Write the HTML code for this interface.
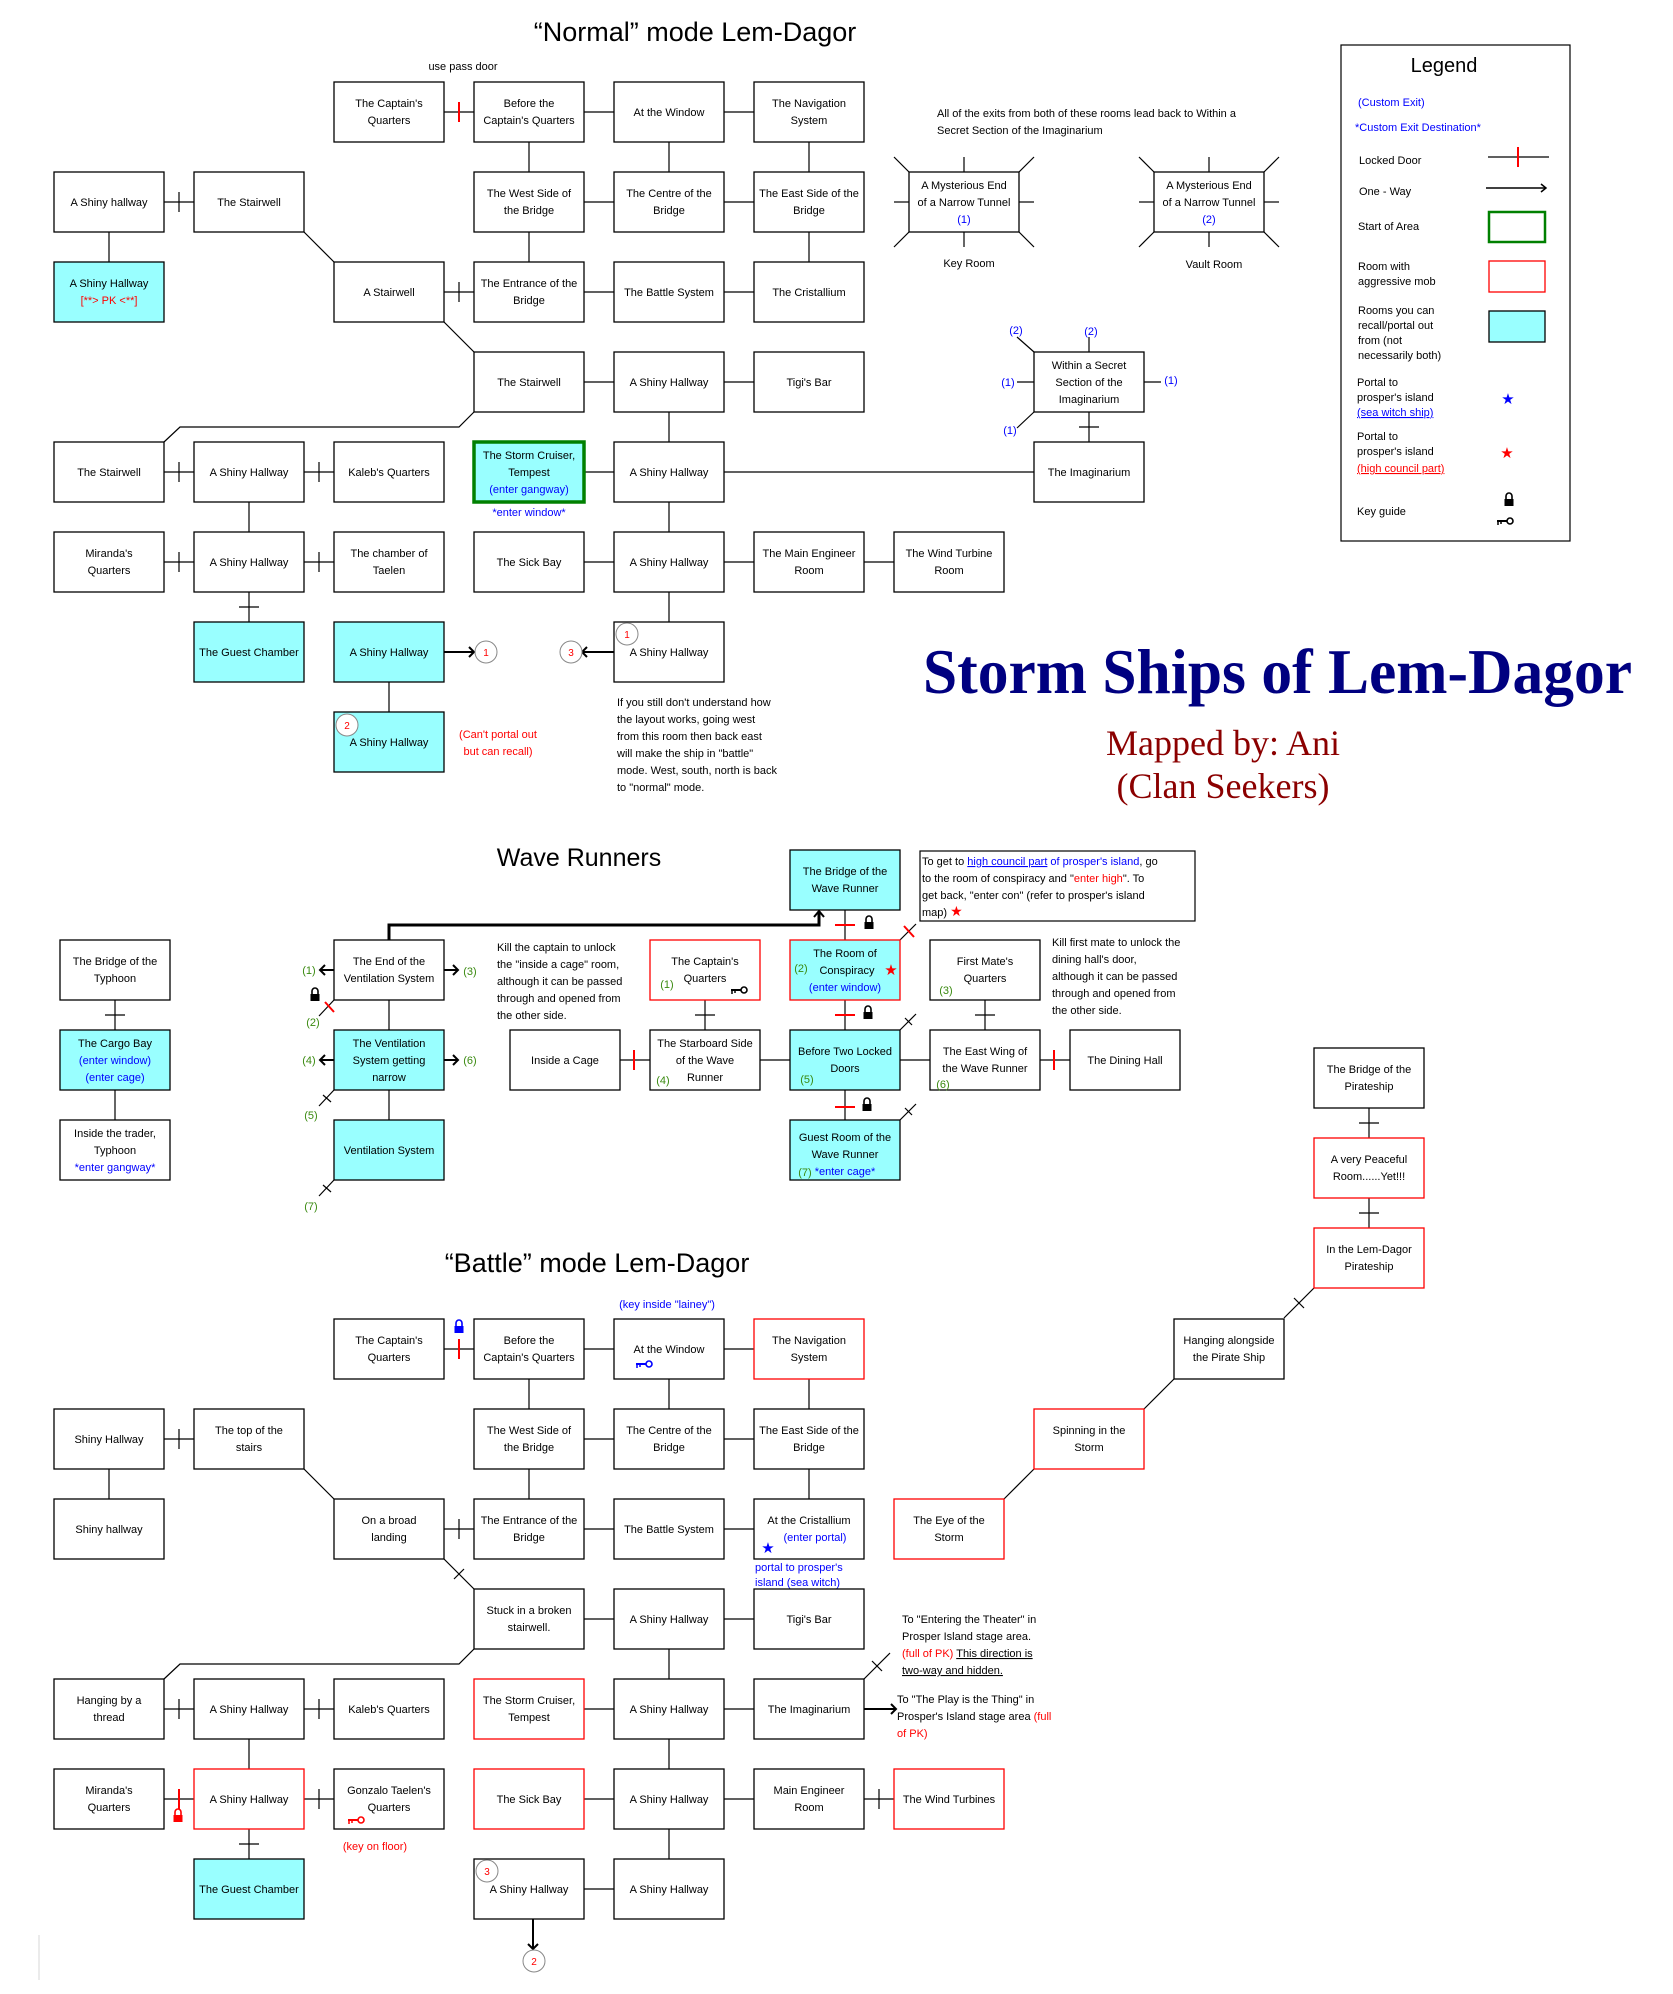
<!DOCTYPE html>
<html><head><meta charset="utf-8"><style>
html,body{margin:0;padding:0;background:#fff}
svg{display:block}
text{font-family:"Liberation Sans",sans-serif;font-size:11px;fill:#000}
.c{text-anchor:middle}
.b{fill:#0000ff}.r{fill:#ff0000}.g{fill:#3a8a10}
rect{stroke:#000;stroke-width:1.3;fill:#fff}
.cy{fill:#99ffff}.rd{stroke:#ff0000}.gr{stroke:#008000;stroke-width:3.5}
line,polyline,path.l{stroke:#000;stroke-width:1.2;fill:none}
.rt{stroke:#ff0000;stroke-width:2}
</style></head><body>
<svg width="1673" height="1994" viewBox="0 0 1673 1994" xmlns="http://www.w3.org/2000/svg">
<defs>
<g id="lock"><path d="M-3,0 v-3 a3,3 0 0 1 6,0 v3" stroke="#000" stroke-width="1.6" fill="none"/><rect x="-4.5" y="0" width="9" height="7" style="fill:#000;stroke:none"/></g>
<g id="key"><circle cx="5" cy="0" r="3" fill="none" stroke="#000" stroke-width="1.6"/><line x1="-8" y1="0" x2="2" y2="0" style="stroke-width:2"/><line x1="-7" y1="0" x2="-7" y2="4" style="stroke-width:1.5"/><line x1="-4" y1="0" x2="-4" y2="3" style="stroke-width:1.5"/></g>
</defs>

<!-- ============ NORMAL MODE ============ -->
<text x="695" y="41" class="c" style="font-size:27px">“Normal” mode Lem-Dagor</text>
<text x="463" y="70" class="c">use pass door</text>

<!-- connectors -->
<line x1="444" y1="112" x2="474" y2="112"/><line x1="459" y1="102" x2="459" y2="122" class="rt"/>
<line x1="584" y1="112" x2="614" y2="112"/><line x1="724" y1="112" x2="754" y2="112"/>
<line x1="529" y1="142" x2="529" y2="172"/><line x1="669" y1="142" x2="669" y2="172"/><line x1="809" y1="142" x2="809" y2="172"/>
<line x1="164" y1="202" x2="194" y2="202"/><line x1="179" y1="192" x2="179" y2="212"/>
<line x1="584" y1="202" x2="614" y2="202"/><line x1="724" y1="202" x2="754" y2="202"/>
<line x1="109" y1="232" x2="109" y2="262"/>
<line x1="529" y1="232" x2="529" y2="262"/><line x1="809" y1="232" x2="809" y2="262"/>
<line x1="304" y1="232" x2="334" y2="262"/>
<line x1="444" y1="292" x2="474" y2="292"/><line x1="459" y1="282" x2="459" y2="302"/>
<line x1="584" y1="292" x2="614" y2="292"/><line x1="724" y1="292" x2="754" y2="292"/>
<line x1="444" y1="322" x2="474" y2="352"/>
<line x1="584" y1="382" x2="614" y2="382"/><line x1="724" y1="382" x2="754" y2="382"/>
<line x1="669" y1="412" x2="669" y2="442"/>
<polyline points="474,412 459,427 180,427 164,442"/>
<line x1="164" y1="472" x2="194" y2="472"/><line x1="179" y1="462" x2="179" y2="482"/>
<line x1="304" y1="472" x2="334" y2="472"/><line x1="319" y1="462" x2="319" y2="482"/>
<line x1="584" y1="472" x2="614" y2="472"/><line x1="724" y1="472" x2="1034" y2="472"/>
<line x1="1089" y1="412" x2="1089" y2="442"/><line x1="1079" y1="427" x2="1099" y2="427"/>
<line x1="249" y1="502" x2="249" y2="532"/><line x1="669" y1="502" x2="669" y2="532"/>
<line x1="164" y1="562" x2="194" y2="562"/><line x1="179" y1="552" x2="179" y2="572"/>
<line x1="304" y1="562" x2="334" y2="562"/><line x1="319" y1="552" x2="319" y2="572"/>
<line x1="584" y1="562" x2="614" y2="562"/><line x1="724" y1="562" x2="754" y2="562"/><line x1="864" y1="562" x2="894" y2="562"/>
<line x1="249" y1="592" x2="249" y2="622"/><line x1="239" y1="607" x2="259" y2="607"/>
<line x1="669" y1="592" x2="669" y2="622"/>
<line x1="389" y1="682" x2="389" y2="712"/>
<line x1="444" y1="652" x2="474" y2="652" style="stroke-width:2"/><polyline points="469,647 474,652 469,657" style="stroke-width:2"/>
<line x1="582" y1="652" x2="614" y2="652" style="stroke-width:2"/><polyline points="587,647 582,652 587,657" style="stroke-width:2"/>

<!-- boxes row 0 -->
<rect x="334" y="82" width="110" height="60"/><text x="389" y="107" class="c">The Captain's</text><text x="389" y="124" class="c">Quarters</text>
<rect x="474" y="82" width="110" height="60"/><text x="529" y="107" class="c">Before the</text><text x="529" y="124" class="c">Captain's Quarters</text>
<rect x="614" y="82" width="110" height="60"/><text x="669" y="116" class="c">At the Window</text>
<rect x="754" y="82" width="110" height="60"/><text x="809" y="107" class="c">The Navigation</text><text x="809" y="124" class="c">System</text>
<!-- row 1 -->
<rect x="54" y="172" width="110" height="60"/><text x="109" y="206" class="c">A Shiny hallway</text>
<rect x="194" y="172" width="110" height="60"/><text x="249" y="206" class="c">The Stairwell</text>
<rect x="474" y="172" width="110" height="60"/><text x="529" y="197" class="c">The West Side of</text><text x="529" y="214" class="c">the Bridge</text>
<rect x="614" y="172" width="110" height="60"/><text x="669" y="197" class="c">The Centre of the</text><text x="669" y="214" class="c">Bridge</text>
<rect x="754" y="172" width="110" height="60"/><text x="809" y="197" class="c">The East Side of the</text><text x="809" y="214" class="c">Bridge</text>
<!-- row 2 -->
<rect x="54" y="262" width="110" height="60" class="cy"/><text x="109" y="287" class="c">A Shiny Hallway</text><text x="109" y="304" class="c r">[**&gt; PK &lt;**]</text>
<rect x="334" y="262" width="110" height="60"/><text x="389" y="296" class="c">A Stairwell</text>
<rect x="474" y="262" width="110" height="60"/><text x="529" y="287" class="c">The Entrance of the</text><text x="529" y="304" class="c">Bridge</text>
<rect x="614" y="262" width="110" height="60"/><text x="669" y="296" class="c">The Battle System</text>
<rect x="754" y="262" width="110" height="60"/><text x="809" y="296" class="c">The Cristallium</text>
<!-- row 3 -->
<rect x="474" y="352" width="110" height="60"/><text x="529" y="386" class="c">The Stairwell</text>
<rect x="614" y="352" width="110" height="60"/><text x="669" y="386" class="c">A Shiny Hallway</text>
<rect x="754" y="352" width="110" height="60"/><text x="809" y="386" class="c">Tigi's Bar</text>
<!-- row 4 -->
<rect x="54" y="442" width="110" height="60"/><text x="109" y="476" class="c">The Stairwell</text>
<rect x="194" y="442" width="110" height="60"/><text x="249" y="476" class="c">A Shiny Hallway</text>
<rect x="334" y="442" width="110" height="60"/><text x="389" y="476" class="c">Kaleb's Quarters</text>
<rect x="474" y="442" width="110" height="60" class="cy gr"/><text x="529" y="459" class="c">The Storm Cruiser,</text><text x="529" y="476" class="c">Tempest</text><text x="529" y="493" class="c b">(enter gangway)</text>
<text x="529" y="516" class="c b">*enter window*</text>
<rect x="614" y="442" width="110" height="60"/><text x="669" y="476" class="c">A Shiny Hallway</text>
<!-- row 5 -->
<rect x="54" y="532" width="110" height="60"/><text x="109" y="557" class="c">Miranda's</text><text x="109" y="574" class="c">Quarters</text>
<rect x="194" y="532" width="110" height="60"/><text x="249" y="566" class="c">A Shiny Hallway</text>
<rect x="334" y="532" width="110" height="60"/><text x="389" y="557" class="c">The chamber of</text><text x="389" y="574" class="c">Taelen</text>
<rect x="474" y="532" width="110" height="60"/><text x="529" y="566" class="c">The Sick Bay</text>
<rect x="614" y="532" width="110" height="60"/><text x="669" y="566" class="c">A Shiny Hallway</text>
<rect x="754" y="532" width="110" height="60"/><text x="809" y="557" class="c">The Main Engineer</text><text x="809" y="574" class="c">Room</text>
<rect x="894" y="532" width="110" height="60"/><text x="949" y="557" class="c">The Wind Turbine</text><text x="949" y="574" class="c">Room</text>
<!-- row 6 -->
<rect x="194" y="622" width="110" height="60" class="cy"/><text x="249" y="656" class="c">The Guest Chamber</text>
<rect x="334" y="622" width="110" height="60" class="cy"/><text x="389" y="656" class="c">A Shiny Hallway</text>
<rect x="614" y="622" width="110" height="60"/><text x="669" y="656" class="c">A Shiny Hallway</text>
<circle cx="486" cy="652" r="11" fill="#fff" stroke="#888"/><text x="486" y="656" class="c r" style="font-size:10px">1</text>
<circle cx="571" cy="652" r="11" fill="#fff" stroke="#888"/><text x="571" y="656" class="c r" style="font-size:10px">3</text>
<circle cx="627" cy="634" r="11" fill="#fff" stroke="#888"/><text x="627" y="638" class="c r" style="font-size:10px">1</text>
<!-- row 7 -->
<rect x="334" y="712" width="110" height="60" class="cy"/><text x="389" y="746" class="c">A Shiny Hallway</text>
<circle cx="347" cy="725" r="11" fill="#fff" stroke="#888"/><text x="347" y="729" class="c r" style="font-size:10px">2</text>
<text x="498" y="738" class="c r">(Can't portal out</text><text x="498" y="755" class="c r">but can recall)</text>
<text x="617" y="706">If you still don't understand how</text>
<text x="617" y="723">the layout works, going west</text>
<text x="617" y="740">from this room then back east</text>
<text x="617" y="757">will make the ship in "battle"</text>
<text x="617" y="774">mode. West, south, north is back</text>
<text x="617" y="791">to "normal" mode.</text>

<!-- mysterious ends -->
<text x="937" y="117">All of the exits from both of these rooms lead back to Within a</text>
<text x="937" y="134">Secret Section of the Imaginarium</text>
<g>
<line x1="964" y1="172" x2="964" y2="157"/><line x1="964" y1="232" x2="964" y2="247"/><line x1="909" y1="202" x2="894" y2="202"/><line x1="1019" y1="202" x2="1034" y2="202"/>
<line x1="909" y1="172" x2="894" y2="157"/><line x1="1019" y1="172" x2="1034" y2="157"/><line x1="909" y1="232" x2="894" y2="247"/><line x1="1019" y1="232" x2="1034" y2="247"/>
<rect x="909" y="172" width="110" height="60"/><text x="964" y="189" class="c">A Mysterious End</text><text x="964" y="206" class="c">of a Narrow Tunnel</text><text x="964" y="223" class="c b">(1)</text>
<text x="969" y="267" class="c">Key Room</text>
</g>
<g>
<line x1="1209" y1="172" x2="1209" y2="157"/><line x1="1209" y1="232" x2="1209" y2="247"/><line x1="1154" y1="202" x2="1139" y2="202"/><line x1="1264" y1="202" x2="1279" y2="202"/>
<line x1="1154" y1="172" x2="1139" y2="157"/><line x1="1264" y1="172" x2="1279" y2="157"/><line x1="1154" y1="232" x2="1139" y2="247"/><line x1="1264" y1="232" x2="1279" y2="247"/>
<rect x="1154" y="172" width="110" height="60"/><text x="1209" y="189" class="c">A Mysterious End</text><text x="1209" y="206" class="c">of a Narrow Tunnel</text><text x="1209" y="223" class="c b">(2)</text>
<text x="1214" y="268" class="c">Vault Room</text>
</g>
<!-- secret section -->
<line x1="1034" y1="352" x2="1017" y2="337"/><line x1="1089" y1="352" x2="1089" y2="337"/>
<line x1="1034" y1="382" x2="1017" y2="382"/><line x1="1144" y1="382" x2="1161" y2="382"/><line x1="1034" y1="412" x2="1017" y2="428"/>
<text x="1016" y="334" class="c b">(2)</text><text x="1091" y="335" class="c b">(2)</text>
<text x="1008" y="386" class="c b">(1)</text><text x="1171" y="384" class="c b">(1)</text><text x="1010" y="434" class="c b">(1)</text>
<rect x="1034" y="352" width="110" height="60"/><text x="1089" y="369" class="c">Within a Secret</text><text x="1089" y="386" class="c">Section of the</text><text x="1089" y="403" class="c">Imaginarium</text>
<rect x="1034" y="442" width="110" height="60"/><text x="1089" y="476" class="c">The Imaginarium</text>

<!-- legend -->
<rect x="1341" y="45" width="229" height="496" style="stroke-width:1.2"/>
<text x="1444" y="72" class="c" style="font-size:20px">Legend</text>
<text x="1358" y="106" class="b">(Custom Exit)</text>
<text x="1355" y="131" class="b">*Custom Exit Destination*</text>
<text x="1359" y="164">Locked Door</text>
<line x1="1488" y1="157" x2="1549" y2="157"/><line x1="1518" y1="147" x2="1518" y2="167" class="rt"/>
<text x="1359" y="195">One - Way</text>
<line x1="1486" y1="188" x2="1546" y2="188" style="stroke-width:1.5"/><polyline points="1541,184 1546,188 1541,192" style="stroke-width:1.5"/>
<text x="1358" y="230">Start of Area</text>
<rect x="1489" y="212" width="56" height="30" style="stroke:#008000;stroke-width:2.5;fill:#fff"/>
<text x="1358" y="270">Room with</text><text x="1358" y="285">aggressive mob</text>
<rect x="1489" y="261" width="56" height="31" class="rd"/>
<text x="1358" y="314">Rooms you can</text><text x="1358" y="329">recall/portal out</text><text x="1358" y="344">from (not</text><text x="1358" y="359">necessarily both)</text>
<rect x="1489" y="311" width="56" height="31" class="cy"/>
<text x="1357" y="386">Portal to</text><text x="1357" y="401">prosper's island</text><text x="1357" y="416" class="b" style="text-decoration:underline">(sea witch ship)</text>
<text x="1508" y="404" class="c b" style="font-size:15px">★</text>
<text x="1357" y="440">Portal to</text><text x="1357" y="455">prosper's island</text><text x="1357" y="472" class="r" style="text-decoration:underline">(high council part)</text>
<text x="1507" y="458" class="c r" style="font-size:15px">★</text>
<text x="1357" y="515">Key guide</text>
<use href="#lock" x="1509" y="499"/><use href="#key" x="1505" y="521"/>

<!-- title -->
<text x="923" y="693" textLength="709" lengthAdjust="spacingAndGlyphs" style="font-family:'Liberation Serif',serif;font-size:64px;font-weight:bold;fill:#000080">Storm Ships of Lem-Dagor</text>
<text x="1223" y="755" class="c" style="font-family:'Liberation Serif',serif;font-size:36px;fill:#8b0000">Mapped by: Ani</text>
<text x="1223" y="798" class="c" style="font-family:'Liberation Serif',serif;font-size:36px;fill:#8b0000">(Clan Seekers)</text>

<!-- ============ WAVE RUNNERS ============ -->
<text x="579" y="866" class="c" style="font-size:25px">Wave Runners</text>
<!-- typhoon -->
<line x1="115" y1="1000" x2="115" y2="1030"/><line x1="105" y1="1015" x2="125" y2="1015"/>
<line x1="115" y1="1090" x2="115" y2="1120"/>
<rect x="60" y="940" width="110" height="60"/><text x="115" y="965" class="c">The Bridge of the</text><text x="115" y="982" class="c">Typhoon</text>
<rect x="60" y="1030" width="110" height="60" class="cy"/><text x="115" y="1047" class="c">The Cargo Bay</text><text x="115" y="1064" class="c b">(enter window)</text><text x="115" y="1081" class="c b">(enter cage)</text>
<rect x="60" y="1120" width="110" height="60"/><text x="115" y="1137" class="c">Inside the trader,</text><text x="115" y="1154" class="c">Typhoon</text><text x="115" y="1171" class="c b">*enter gangway*</text>
<!-- vent -->
<line x1="389" y1="1000" x2="389" y2="1030"/><line x1="389" y1="1090" x2="389" y2="1120"/>
<polyline points="389,940 389,925 819,925 819,911" style="stroke-width:3"/><polyline points="814,917 819,911 824,917" style="stroke-width:2"/>
<line x1="334" y1="970" x2="320" y2="970" style="stroke-width:2"/><polyline points="325,965 320,970 325,975" style="stroke-width:2"/><text x="309" y="974" class="c g">(1)</text>
<line x1="444" y1="970" x2="458" y2="970" style="stroke-width:2"/><polyline points="453,965 458,970 453,975" style="stroke-width:2"/><text x="470" y="975" class="c g">(3)</text>
<line x1="334" y1="1060" x2="320" y2="1060" style="stroke-width:2"/><polyline points="325,1055 320,1060 325,1065" style="stroke-width:2"/><text x="309" y="1064" class="c g">(4)</text>
<line x1="444" y1="1060" x2="458" y2="1060" style="stroke-width:2"/><polyline points="453,1055 458,1060 453,1065" style="stroke-width:2"/><text x="470" y="1064" class="c g">(6)</text>
<use href="#lock" x="315" y="994"/>
<line x1="334" y1="1000" x2="319" y2="1016"/><line x1="325" y1="1002" x2="334" y2="1012" class="rt"/><text x="313" y="1026" class="c g">(2)</text>
<line x1="334" y1="1090" x2="319" y2="1106"/><line x1="323" y1="1095" x2="331" y2="1102"/><text x="311" y="1119" class="c g">(5)</text>
<line x1="334" y1="1180" x2="319" y2="1196"/><line x1="323" y1="1185" x2="331" y2="1192"/><text x="311" y="1210" class="c g">(7)</text>
<rect x="334" y="940" width="110" height="60"/><text x="389" y="965" class="c">The End of the</text><text x="389" y="982" class="c">Ventilation System</text>
<rect x="334" y="1030" width="110" height="60" class="cy"/><text x="389" y="1047" class="c">The Ventilation</text><text x="389" y="1064" class="c">System getting</text><text x="389" y="1081" class="c">narrow</text>
<rect x="334" y="1120" width="110" height="60" class="cy"/><text x="389" y="1154" class="c">Ventilation System</text>
<text x="497" y="951">Kill the captain to unlock</text>
<text x="497" y="968">the "inside a cage" room,</text>
<text x="497" y="985">although it can be passed</text>
<text x="497" y="1002">through and opened from</text>
<text x="497" y="1019">the other side.</text>
<!-- middle -->
<line x1="845" y1="910" x2="845" y2="940"/><line x1="835" y1="925" x2="855" y2="925" class="rt"/><use href="#lock" x="869" y="922"/>
<line x1="845" y1="1000" x2="845" y2="1030"/><line x1="835" y1="1015" x2="855" y2="1015" class="rt"/><use href="#lock" x="868" y="1012"/>
<line x1="845" y1="1090" x2="845" y2="1120"/><line x1="835" y1="1107" x2="855" y2="1107" class="rt"/><use href="#lock" x="867" y="1104"/>
<line x1="900" y1="940" x2="916" y2="924"/><line x1="904" y1="926" x2="914" y2="937" class="rt"/>
<line x1="900" y1="1030" x2="916" y2="1014"/><line x1="905" y1="1018" x2="912" y2="1025"/>
<line x1="900" y1="1120" x2="916" y2="1104"/><line x1="905" y1="1108" x2="912" y2="1115"/>
<line x1="705" y1="1000" x2="705" y2="1030"/><line x1="695" y1="1015" x2="715" y2="1015"/>
<line x1="620" y1="1060" x2="650" y2="1060"/><line x1="634" y1="1050" x2="634" y2="1070" class="rt"/>
<line x1="760" y1="1060" x2="790" y2="1060"/><line x1="900" y1="1060" x2="930" y2="1060"/>
<line x1="985" y1="1000" x2="985" y2="1030"/><line x1="975" y1="1015" x2="995" y2="1015"/>
<line x1="1040" y1="1060" x2="1070" y2="1060"/><line x1="1054" y1="1050" x2="1054" y2="1070" class="rt"/>
<rect x="790" y="850" width="110" height="60" class="cy"/><text x="845" y="875" class="c">The Bridge of the</text><text x="845" y="892" class="c">Wave Runner</text>
<rect x="790" y="940" width="110" height="60" class="cy rd"/><text x="845" y="957" class="c">The Room of</text><text x="847" y="974" class="c">Conspiracy</text><text x="801" y="972" class="c g">(2)</text><text x="891" y="975" class="c r" style="font-size:15px">★</text><text x="845" y="991" class="c b">(enter window)</text>
<rect x="650" y="940" width="110" height="60" class="rd"/><text x="705" y="965" class="c">The Captain's</text><text x="705" y="982" class="c">Quarters</text><text x="667" y="988" class="c g">(1)</text><use href="#key" x="739" y="990"/>
<rect x="510" y="1030" width="110" height="60"/><text x="565" y="1064" class="c">Inside a Cage</text>
<rect x="650" y="1030" width="110" height="60"/><text x="705" y="1047" class="c">The Starboard Side</text><text x="705" y="1064" class="c">of the Wave</text><text x="705" y="1081" class="c">Runner</text><text x="663" y="1084" class="c g">(4)</text>
<rect x="790" y="1030" width="110" height="60" class="cy"/><text x="845" y="1055" class="c">Before Two Locked</text><text x="845" y="1072" class="c">Doors</text><text x="807" y="1083" class="c g">(5)</text>
<rect x="790" y="1120" width="110" height="60" class="cy"/><text x="845" y="1141" class="c">Guest Room of the</text><text x="845" y="1158" class="c">Wave Runner</text><text x="805" y="1176" class="c g">(7)</text><text x="845" y="1175" class="c b">*enter cage*</text>
<rect x="930" y="940" width="110" height="60"/><text x="985" y="965" class="c">First Mate's</text><text x="985" y="982" class="c">Quarters</text><text x="946" y="994" class="c g">(3)</text>
<rect x="930" y="1030" width="110" height="60"/><text x="985" y="1055" class="c">The East Wing of</text><text x="985" y="1072" class="c">the Wave Runner</text><text x="943" y="1088" class="c g">(6)</text>
<rect x="1070" y="1030" width="110" height="60"/><text x="1125" y="1064" class="c">The Dining Hall</text>
<text x="1052" y="946">Kill first mate to unlock the</text>
<text x="1052" y="963">dining hall's door,</text>
<text x="1052" y="980">although it can be passed</text>
<text x="1052" y="997">through and opened from</text>
<text x="1052" y="1014">the other side.</text>
<rect x="920" y="851" width="275" height="70" style="stroke-width:1.2"/>
<text x="922" y="865">To get to <tspan class="b" style="text-decoration:underline">high council part</tspan><tspan class="b"> of prosper's island</tspan>, go</text>
<text x="922" y="882">to the room of conspiracy and "<tspan class="r">enter high</tspan>". To</text>
<text x="922" y="899">get back, "enter con" (refer to prosper's island</text>
<text x="922" y="916">map) <tspan class="r" style="font-size:14px">★</tspan></text>
<!-- pirateship -->
<line x1="1369" y1="1108" x2="1369" y2="1138"/><line x1="1359" y1="1123" x2="1379" y2="1123"/>
<line x1="1369" y1="1198" x2="1369" y2="1228"/><line x1="1359" y1="1213" x2="1379" y2="1213"/>
<line x1="1314" y1="1288" x2="1284" y2="1318"/><line x1="1294" y1="1298" x2="1304" y2="1308"/>
<rect x="1314" y="1048" width="110" height="60"/><text x="1369" y="1073" class="c">The Bridge of the</text><text x="1369" y="1090" class="c">Pirateship</text>
<rect x="1314" y="1138" width="110" height="60" class="rd"/><text x="1369" y="1163" class="c">A very Peaceful</text><text x="1369" y="1180" class="c">Room......Yet!!!</text>
<rect x="1314" y="1228" width="110" height="60" class="rd"/><text x="1369" y="1253" class="c">In the Lem-Dagor</text><text x="1369" y="1270" class="c">Pirateship</text>

<!-- ============ BATTLE MODE ============ -->
<text x="597" y="1272" class="c" style="font-size:27px">“Battle” mode Lem-Dagor</text>
<text x="667" y="1308" class="c b">(key inside "lainey")</text>
<line x1="444" y1="1349" x2="474" y2="1349"/><line x1="459" y1="1339" x2="459" y2="1359" class="rt"/>
<g style="opacity:1"><path d="M456,1326 v-3 a3,3 0 0 1 6,0 v3" stroke="#0000ff" stroke-width="1.6" fill="none"/><rect x="454.5" y="1326" width="9" height="7" style="fill:#0000ff;stroke:none"/></g>
<line x1="584" y1="1349" x2="614" y2="1349"/><line x1="724" y1="1349" x2="754" y2="1349"/>
<line x1="529" y1="1379" x2="529" y2="1409"/><line x1="669" y1="1379" x2="669" y2="1409"/><line x1="809" y1="1379" x2="809" y2="1409"/>
<line x1="164" y1="1439" x2="194" y2="1439"/><line x1="179" y1="1429" x2="179" y2="1449"/>
<line x1="584" y1="1439" x2="614" y2="1439"/><line x1="724" y1="1439" x2="754" y2="1439"/>
<line x1="109" y1="1469" x2="109" y2="1499"/>
<line x1="304" y1="1469" x2="334" y2="1499"/>
<line x1="529" y1="1469" x2="529" y2="1499"/><line x1="809" y1="1469" x2="809" y2="1499"/>
<line x1="444" y1="1529" x2="474" y2="1529"/><line x1="459" y1="1519" x2="459" y2="1539"/>
<line x1="584" y1="1529" x2="614" y2="1529"/><line x1="724" y1="1529" x2="754" y2="1529"/>
<line x1="444" y1="1559" x2="474" y2="1589"/><line x1="454" y1="1579" x2="464" y2="1569"/>
<line x1="584" y1="1619" x2="614" y2="1619"/><line x1="724" y1="1619" x2="754" y2="1619"/>
<line x1="669" y1="1649" x2="669" y2="1679"/>
<polyline points="474,1649 459,1664 180,1664 164,1679"/>
<line x1="164" y1="1709" x2="194" y2="1709"/><line x1="179" y1="1699" x2="179" y2="1719"/>
<line x1="304" y1="1709" x2="334" y2="1709"/><line x1="319" y1="1699" x2="319" y2="1719"/>
<line x1="584" y1="1709" x2="614" y2="1709"/><line x1="724" y1="1709" x2="754" y2="1709"/>
<line x1="864" y1="1709" x2="896" y2="1709" style="stroke-width:2"/><polyline points="891,1704 896,1709 891,1714" style="stroke-width:2"/>
<line x1="864" y1="1679" x2="890" y2="1653"/><line x1="872" y1="1661" x2="882" y2="1671"/>
<line x1="249" y1="1739" x2="249" y2="1769"/><line x1="669" y1="1739" x2="669" y2="1769"/>
<line x1="164" y1="1799" x2="194" y2="1799"/><line x1="179" y1="1789" x2="179" y2="1809" class="rt"/>
<g><path d="M175,1815 v-3 a3,3 0 0 1 6,0 v3" stroke="#ff0000" stroke-width="1.6" fill="none"/><rect x="173.5" y="1815" width="9" height="7" style="fill:#ff0000;stroke:none"/></g>
<line x1="304" y1="1799" x2="334" y2="1799"/><line x1="319" y1="1789" x2="319" y2="1809"/>
<line x1="584" y1="1799" x2="614" y2="1799"/><line x1="724" y1="1799" x2="754" y2="1799"/>
<line x1="864" y1="1799" x2="894" y2="1799"/><line x1="879" y1="1789" x2="879" y2="1809"/>
<line x1="249" y1="1829" x2="249" y2="1859"/><line x1="239" y1="1844" x2="259" y2="1844"/>
<line x1="669" y1="1829" x2="669" y2="1859"/>
<line x1="584" y1="1889" x2="614" y2="1889"/>
<line x1="533" y1="1919" x2="533" y2="1949" style="stroke-width:2"/><polyline points="528,1944 533,1949 538,1944" style="stroke-width:2"/>
<line x1="1034" y1="1469" x2="1004" y2="1499"/><line x1="1144" y1="1409" x2="1174" y2="1379"/>

<rect x="334" y="1319" width="110" height="60"/><text x="389" y="1344" class="c">The Captain's</text><text x="389" y="1361" class="c">Quarters</text>
<rect x="474" y="1319" width="110" height="60"/><text x="529" y="1344" class="c">Before the</text><text x="529" y="1361" class="c">Captain's Quarters</text>
<rect x="614" y="1319" width="110" height="60"/><text x="669" y="1353" class="c">At the Window</text>
<g style="filter:none"><circle cx="649" cy="1364" r="3" fill="none" stroke="#0000ff" stroke-width="1.6"/><line x1="636" y1="1364" x2="646" y2="1364" style="stroke:#0000ff;stroke-width:2"/><line x1="637" y1="1364" x2="637" y2="1368" style="stroke:#0000ff;stroke-width:1.5"/><line x1="640" y1="1364" x2="640" y2="1367" style="stroke:#0000ff;stroke-width:1.5"/></g>
<rect x="754" y="1319" width="110" height="60" class="rd"/><text x="809" y="1344" class="c">The Navigation</text><text x="809" y="1361" class="c">System</text>
<rect x="54" y="1409" width="110" height="60"/><text x="109" y="1443" class="c">Shiny Hallway</text>
<rect x="194" y="1409" width="110" height="60"/><text x="249" y="1434" class="c">The top of the</text><text x="249" y="1451" class="c">stairs</text>
<rect x="474" y="1409" width="110" height="60"/><text x="529" y="1434" class="c">The West Side of</text><text x="529" y="1451" class="c">the Bridge</text>
<rect x="614" y="1409" width="110" height="60"/><text x="669" y="1434" class="c">The Centre of the</text><text x="669" y="1451" class="c">Bridge</text>
<rect x="754" y="1409" width="110" height="60"/><text x="809" y="1434" class="c">The East Side of the</text><text x="809" y="1451" class="c">Bridge</text>
<rect x="1034" y="1409" width="110" height="60" class="rd"/><text x="1089" y="1434" class="c">Spinning in the</text><text x="1089" y="1451" class="c">Storm</text>
<rect x="1174" y="1319" width="110" height="60"/><text x="1229" y="1344" class="c">Hanging alongside</text><text x="1229" y="1361" class="c">the Pirate Ship</text>
<rect x="54" y="1499" width="110" height="60"/><text x="109" y="1533" class="c">Shiny hallway</text>
<rect x="334" y="1499" width="110" height="60"/><text x="389" y="1524" class="c">On a broad</text><text x="389" y="1541" class="c">landing</text>
<rect x="474" y="1499" width="110" height="60"/><text x="529" y="1524" class="c">The Entrance of the</text><text x="529" y="1541" class="c">Bridge</text>
<rect x="614" y="1499" width="110" height="60"/><text x="669" y="1533" class="c">The Battle System</text>
<rect x="754" y="1499" width="110" height="60"/><text x="809" y="1524" class="c">At the Cristallium</text><text x="815" y="1541" class="c b">(enter portal)</text><text x="768" y="1553" class="c b" style="font-size:15px">★</text>
<text x="755" y="1571" class="b">portal to prosper's</text><text x="755" y="1586" class="b">island (sea witch)</text>
<rect x="894" y="1499" width="110" height="60" class="rd"/><text x="949" y="1524" class="c">The Eye of the</text><text x="949" y="1541" class="c">Storm</text>
<rect x="474" y="1589" width="110" height="60"/><text x="529" y="1614" class="c">Stuck in a broken</text><text x="529" y="1631" class="c">stairwell.</text>
<rect x="614" y="1589" width="110" height="60"/><text x="669" y="1623" class="c">A Shiny Hallway</text>
<rect x="754" y="1589" width="110" height="60"/><text x="809" y="1623" class="c">Tigi's Bar</text>
<text x="902" y="1623">To "Entering the Theater" in</text>
<text x="902" y="1640">Prosper Island stage area.</text>
<text x="902" y="1657"><tspan class="r">(full of PK)</tspan> <tspan style="text-decoration:underline">This direction is</tspan></text>
<text x="902" y="1674" style="text-decoration:underline">two-way and hidden.</text>
<rect x="54" y="1679" width="110" height="60"/><text x="109" y="1704" class="c">Hanging by a</text><text x="109" y="1721" class="c">thread</text>
<rect x="194" y="1679" width="110" height="60"/><text x="249" y="1713" class="c">A Shiny Hallway</text>
<rect x="334" y="1679" width="110" height="60"/><text x="389" y="1713" class="c">Kaleb's Quarters</text>
<rect x="474" y="1679" width="110" height="60" class="rd"/><text x="529" y="1704" class="c">The Storm Cruiser,</text><text x="529" y="1721" class="c">Tempest</text>
<rect x="614" y="1679" width="110" height="60"/><text x="669" y="1713" class="c">A Shiny Hallway</text>
<rect x="754" y="1679" width="110" height="60"/><text x="809" y="1713" class="c">The Imaginarium</text>
<text x="897" y="1703">To "The Play is the Thing" in</text>
<text x="897" y="1720">Prosper's Island stage area <tspan class="r">(full</tspan></text>
<text x="897" y="1737" class="r">of PK)</text>
<rect x="54" y="1769" width="110" height="60"/><text x="109" y="1794" class="c">Miranda's</text><text x="109" y="1811" class="c">Quarters</text>
<rect x="194" y="1769" width="110" height="60" class="rd"/><text x="249" y="1803" class="c">A Shiny Hallway</text>
<rect x="334" y="1769" width="110" height="60"/><text x="389" y="1794" class="c">Gonzalo Taelen's</text><text x="389" y="1811" class="c">Quarters</text>
<g><circle cx="361" cy="1820" r="3" fill="none" stroke="#ff0000" stroke-width="1.6"/><line x1="348" y1="1820" x2="358" y2="1820" style="stroke:#ff0000;stroke-width:2"/><line x1="349" y1="1820" x2="349" y2="1824" style="stroke:#ff0000;stroke-width:1.5"/><line x1="352" y1="1820" x2="352" y2="1823" style="stroke:#ff0000;stroke-width:1.5"/></g>
<text x="375" y="1850" class="c r">(key on floor)</text>
<rect x="474" y="1769" width="110" height="60" class="rd"/><text x="529" y="1803" class="c">The Sick Bay</text>
<rect x="614" y="1769" width="110" height="60"/><text x="669" y="1803" class="c">A Shiny Hallway</text>
<rect x="754" y="1769" width="110" height="60"/><text x="809" y="1794" class="c">Main Engineer</text><text x="809" y="1811" class="c">Room</text>
<rect x="894" y="1769" width="110" height="60" class="rd"/><text x="949" y="1803" class="c">The Wind Turbines</text>
<rect x="194" y="1859" width="110" height="60" class="cy"/><text x="249" y="1893" class="c">The Guest Chamber</text>
<rect x="474" y="1859" width="110" height="60"/><text x="529" y="1893" class="c">A Shiny Hallway</text>
<circle cx="487" cy="1871" r="11" fill="#fff" stroke="#888"/><text x="487" y="1875" class="c r" style="font-size:10px">3</text>
<rect x="614" y="1859" width="110" height="60"/><text x="669" y="1893" class="c">A Shiny Hallway</text>
<circle cx="534" cy="1961" r="11" fill="#fff" stroke="#888"/><text x="534" y="1965" class="c r" style="font-size:10px">2</text>
<line x1="39" y1="1935" x2="39" y2="1980" style="stroke:#ddd"/>
</svg>
</body></html>
